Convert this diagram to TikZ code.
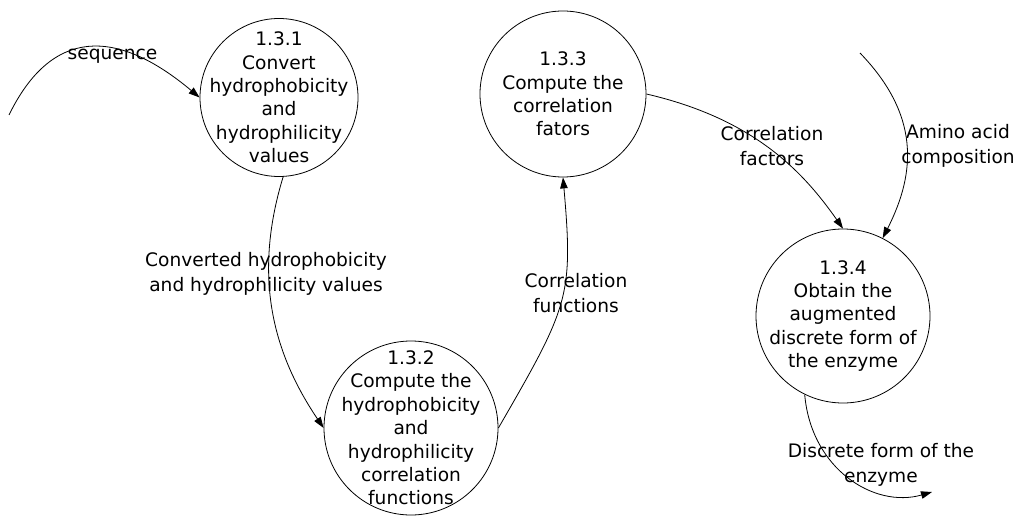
\documentclass[tikz,border=0pt]{standalone}
\usepackage{fontspec}
\setmainfont{DejaVu Sans}
\usetikzlibrary{arrows.meta}
\begin{document}
\begin{tikzpicture}[x=1pt,y=1pt,
  proc/.style={circle,draw,line width=0.8pt,inner sep=0pt},
  proctext/.style={align=center,inner sep=0pt,font=\fontsize{18.6}{23.4}\selectfont},
  flowlabel/.style={align=center,inner sep=0pt,font=\fontsize{18.6}{24.5}\selectfont},
  flow/.style={line width=0.8pt,-{Triangle[length=11pt,width=7.5pt]}}]
\useasboundingbox (0,0) rectangle (1018,-516);

% processes
\node[proc,minimum size=158pt] (p1) at (279,-97.5) {};
\node[proctext] (t1) at (p1) {1.3.1\\Convert\\hydrophobicity\\and\\hydrophilicity\\values};
\node[proc,minimum size=174pt] (p2) at (411,-428) {};
\node[proctext] (t2) at (p2) {1.3.2\\Compute the\\hydrophobicity\\and\\hydrophilicity\\correlation\\functions};
\node[proc,minimum size=166pt] (p3) at (563,-94) {};
\node[proctext] (t3) at (p3) {1.3.3\\Compute the\\correlation\\fators};
\node[proc,minimum size=174pt] (p4) at (843,-316) {};
\node[proctext] (t4) at (p4) {1.3.4\\Obtain the\\augmented\\discrete form of\\the enzyme};

% free ends of the external flows
\coordinate (seqin) at (9,-115);
\coordinate (aain) at (860,-53);
\coordinate (dfout) at (932,-492);

% flows
\draw[flow] (seqin) .. controls +(64:97pt) and +(140:109pt) .. (p1.west);
\draw[flow] (p1.-87) .. controls +(-107:105pt) and +(124:90pt) .. (p2.west);
\draw[flow] (p2.east) .. controls +(60:140pt) and +(-85:120pt) .. (p3.south);
\draw[flow] (p3.east) .. controls +(-13:110pt) and +(125:70pt) .. (p4.north);
\draw[flow] (aain) .. controls +(-46:85pt) and +(63:75pt) .. (p4.63);
\draw[flow] (p4.-116) .. controls +(-85:75pt) and +(196:60pt) .. (dfout);

% flow labels
\node[flowlabel] (l1) at (112.5,-56) {sequence};
\node[flowlabel] (l2) at (266,-274) {Converted hydrophobicity\\and hydrophilicity values};
\node[flowlabel] (l3) at (576,-293) {Correlation\\functions};
\node[flowlabel] (l4) at (772,-146) {Correlation\\factors};
\node[flowlabel] (l5) at (958,-146) {Amino acid\\composition};
\node[flowlabel] (l6) at (881,-465) {Discrete form of the\\enzyme};
\end{tikzpicture}
\end{document}
